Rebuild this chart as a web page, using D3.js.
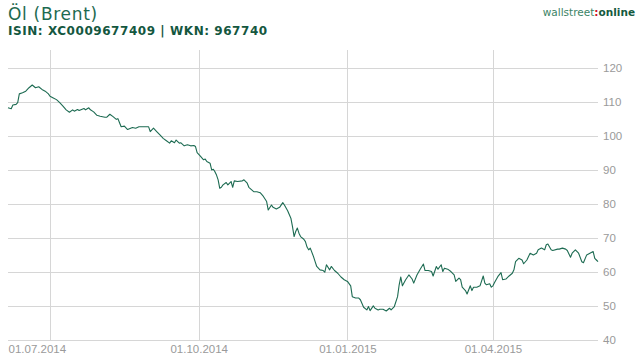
<!DOCTYPE html>
<html lang="de">
<head>
    <meta charset="utf-8">
    <title>Öl (Brent)</title>
    <script src="https://d3js.org/d3.v7.min.js"></script>
    <style>
        body { margin: 0; background: #fff; }
        svg { display: block; }
        .title { font-family: "DejaVu Sans", Verdana, sans-serif; font-size: 17px; fill: #1d6a50; letter-spacing: 0.7px; }
        .subtitle { font-family: "DejaVu Sans", Verdana, sans-serif; font-size: 12px; font-weight: bold; fill: #14573f; letter-spacing: 0.55px; }
        .logo { font-family: "DejaVu Sans", Verdana, sans-serif; font-size: 10.5px; }
        .axis text { font-family: "Liberation Sans", Arial, sans-serif; font-size: 11.5px; fill: #9a9a9a; }
        .axis line { stroke: #d6d6d6; shape-rendering: crispEdges; }
        .axis .domain { display: none; }
    </style>
</head>
<body>
    <div id="chart"></div>
    <script>
        // price series
        const dates = [
            "2014-06-05","2014-06-07","2014-06-08","2014-06-10","2014-06-11","2014-06-12","2014-06-14","2014-06-16",
            "2014-06-18","2014-06-20","2014-06-22","2014-06-24","2014-06-26","2014-06-28","2014-06-30","2014-07-01",
            "2014-07-03","2014-07-05","2014-07-07","2014-07-09","2014-07-11","2014-07-13","2014-07-15","2014-07-16",
            "2014-07-18","2014-07-19","2014-07-22","2014-07-23","2014-07-25","2014-07-26","2014-07-28","2014-07-30",
            "2014-08-01","2014-08-04","2014-08-05","2014-08-07","2014-08-09","2014-08-11","2014-08-12","2014-08-13",
            "2014-08-14","2014-08-16","2014-08-18","2014-08-21","2014-08-23","2014-08-25","2014-08-28","2014-08-31",
            "2014-09-01","2014-09-03","2014-09-05","2014-09-07","2014-09-09","2014-09-11","2014-09-13","2014-09-14",
            "2014-09-16","2014-09-17","2014-09-19","2014-09-20","2014-09-22","2014-09-24","2014-09-26","2014-09-28",
            "2014-09-29","2014-09-30","2014-10-02","2014-10-04","2014-10-05","2014-10-06","2014-10-08","2014-10-09",
            "2014-10-10","2014-10-11","2014-10-12","2014-10-13","2014-10-14","2014-10-15","2014-10-16","2014-10-18",
            "2014-10-19","2014-10-21","2014-10-22","2014-10-23","2014-10-25","2014-10-28","2014-10-29","2014-10-31",
            "2014-11-01","2014-11-04","2014-11-06","2014-11-08","2014-11-10","2014-11-12","2014-11-13","2014-11-15",
            "2014-11-16","2014-11-18","2014-11-20","2014-11-22","2014-11-23","2014-11-25","2014-11-27","2014-11-28",
            "2014-11-29","2014-11-30","2014-12-01","2014-12-02","2014-12-03","2014-12-05","2014-12-06","2014-12-07",
            "2014-12-08","2014-12-09","2014-12-11","2014-12-12","2014-12-13","2014-12-15","2014-12-17","2014-12-18",
            "2014-12-19","2014-12-21","2014-12-22","2014-12-24","2014-12-26","2014-12-28","2014-12-30","2015-01-01",
            "2015-01-03","2015-01-04","2015-01-06","2015-01-08","2015-01-09","2015-01-11","2015-01-13","2015-01-14",
            "2015-01-15","2015-01-17","2015-01-18","2015-01-20","2015-01-21","2015-01-23","2015-01-25","2015-01-27",
            "2015-01-28","2015-01-30","2015-02-01","2015-02-02","2015-02-03","2015-02-04","2015-02-06","2015-02-08",
            "2015-02-10","2015-02-11","2015-02-13","2015-02-15","2015-02-17","2015-02-18","2015-02-20","2015-02-22",
            "2015-02-23","2015-02-25","2015-02-26","2015-02-28","2015-03-01","2015-03-02","2015-03-04","2015-03-06",
            "2015-03-08","2015-03-09","2015-03-11","2015-03-12","2015-03-13","2015-03-15","2015-03-16","2015-03-18",
            "2015-03-19","2015-03-20","2015-03-22","2015-03-24","2015-03-26","2015-03-27","2015-03-28","2015-03-30",
            "2015-03-31","2015-04-01","2015-04-02","2015-04-04","2015-04-06","2015-04-07","2015-04-09","2015-04-11",
            "2015-04-13","2015-04-14","2015-04-15","2015-04-17","2015-04-19","2015-04-20","2015-04-22","2015-04-24",
            "2015-04-26","2015-04-28","2015-04-29","2015-05-01","2015-05-03","2015-05-04","2015-05-05","2015-05-07",
            "2015-05-08","2015-05-11","2015-05-12","2015-05-14","2015-05-16","2015-05-17","2015-05-19","2015-05-20",
            "2015-05-22","2015-05-24","2015-05-26","2015-05-27","2015-05-29","2015-05-31","2015-06-02","2015-06-03",
            "2015-06-04","2015-06-05"
        ];
        const prices = [
            108.2,107.9,109.0,109.2,109.7,112.3,112.6,113.1,
            114.1,114.9,114.1,114.4,113.6,113.1,112.3,111.6,
            111.1,110.6,109.7,108.7,107.6,106.9,107.6,107.2,
            107.7,107.4,108.0,107.6,108.2,107.6,107.0,106.0,
            105.7,105.4,105.4,106.3,105.6,104.8,105.0,103.8,
            102.6,102.8,101.8,102.4,102.2,102.6,102.6,102.6,
            101.2,102.2,101.2,100.2,99.2,98.5,97.8,98.5,
            97.9,98.7,97.8,97.9,97.0,97.3,97.0,97.1,
            96.8,95.0,94.0,92.9,93.1,92.4,91.9,89.9,
            90.1,89.4,88.4,87.0,84.5,84.8,85.5,86.2,
            85.5,86.5,84.8,86.7,86.5,86.7,87.0,86.0,
            84.8,83.5,83.5,83.2,82.1,80.6,78.1,79.6,
            78.9,78.4,78.9,80.3,79.6,77.9,75.7,73.2,
            70.3,71.8,72.8,71.3,70.3,69.5,68.8,67.2,
            66.4,66.9,64.4,62.9,61.5,60.5,60.3,59.8,
            62.0,60.5,61.5,60.3,59.5,58.4,57.6,57.1,
            55.8,52.6,52.2,52.2,51.7,49.5,48.7,49.7,
            48.5,49.9,49.2,48.7,48.9,48.9,48.4,49.2,
            48.7,49.7,52.6,56.1,58.4,55.8,57.6,59.0,
            57.8,56.6,59.0,60.7,62.2,60.3,60.3,60.0,
            58.7,61.5,60.7,62.0,60.0,61.0,60.7,60.0,
            59.0,57.1,58.1,57.6,55.4,54.4,53.4,55.8,
            54.4,55.4,55.4,55.8,58.7,56.6,56.1,56.4,
            55.4,55.8,56.8,58.5,59.7,57.6,57.8,58.7,
            59.5,60.5,62.9,63.9,63.4,62.3,63.4,65.4,
            64.9,65.4,66.4,66.9,66.4,67.9,68.1,66.4,
            66.2,66.6,66.6,66.9,66.6,66.2,64.2,65.4,
            66.4,65.4,62.9,62.6,64.9,65.4,65.9,63.9,
            63.4,62.9
        ];
        const xTicks = ["2014-07-01", "2014-10-01", "2015-01-01", "2015-04-01"];
        const yTicks = [40, 50, 60, 70, 80, 90, 100, 110, 120];
        const title = "Öl (Brent)";
        const subtitle = "ISIN: XC0009677409 | WKN: 967740";

        const width = 644, height = 360;
        const plotLeft = 8, plotRight = 598, plotTop = 50, plotBottom = 339.5;

        const parse = d3.timeParse("%Y-%m-%d");
        const data = dates.map((d, i) => ({ date: parse(d), value: prices[i] }));

        const svg = d3.select("#chart").append("svg")
            .attr("width", width)
            .attr("height", height);

        const x = d3.scaleTime()
            .domain(d3.extent(data, d => d.date))
            .range([plotLeft, plotRight]);

        const y = d3.scaleLinear()
            .domain([40, 120])
            .range([plotBottom, 67.7]);

        // horizontal grid + labels on the right
        svg.append("g")
            .attr("class", "axis")
            .attr("transform", `translate(${plotRight},0)`)
            .call(d3.axisRight(y).tickValues(yTicks).tickSize(-(plotRight - plotLeft)).tickPadding(5));

        // vertical grid + date labels
        const xAxis = svg.append("g")
            .attr("class", "axis")
            .attr("transform", `translate(0,${plotBottom})`)
            .call(d3.axisBottom(x)
                .tickValues(xTicks.map(parse))
                .tickSize(-(plotBottom - plotTop))
                .tickPadding(5)
                .tickFormat(d3.timeFormat("%d.%m.%Y")));

        // first date label sits flush with the left edge of the plot
        xAxis.selectAll(".tick text").each(function (d, i) {
            if (i === 0) {
                d3.select(this).attr("text-anchor", "start").attr("x", plotLeft - x(d));
            }
        });

        const line = d3.line()
            .x(d => x(d.date))
            .y(d => y(d.value));

        svg.append("path")
            .datum(data)
            .attr("d", line)
            .attr("fill", "none")
            .attr("stroke", "#1d6b52")
            .attr("stroke-width", 1.1)
            .attr("stroke-linejoin", "round");

        // header
        svg.append("text").attr("class", "title")
            .attr("x", 8).attr("y", 20)
            .text(title);

        svg.append("text").attr("class", "subtitle")
            .attr("x", 8).attr("y", 35)
            .text(subtitle);

        const logo = svg.append("text").attr("class", "logo")
            .attr("x", 635).attr("y", 16)
            .attr("text-anchor", "end");
        logo.append("tspan").attr("fill", "#3b8466").text("wallstreet");
        logo.append("tspan").attr("fill", "#d0102a").attr("font-weight", "bold").text(":");
        logo.append("tspan").attr("fill", "#145a40").attr("font-weight", "bold").text("online");
    </script>
</body>
</html>
